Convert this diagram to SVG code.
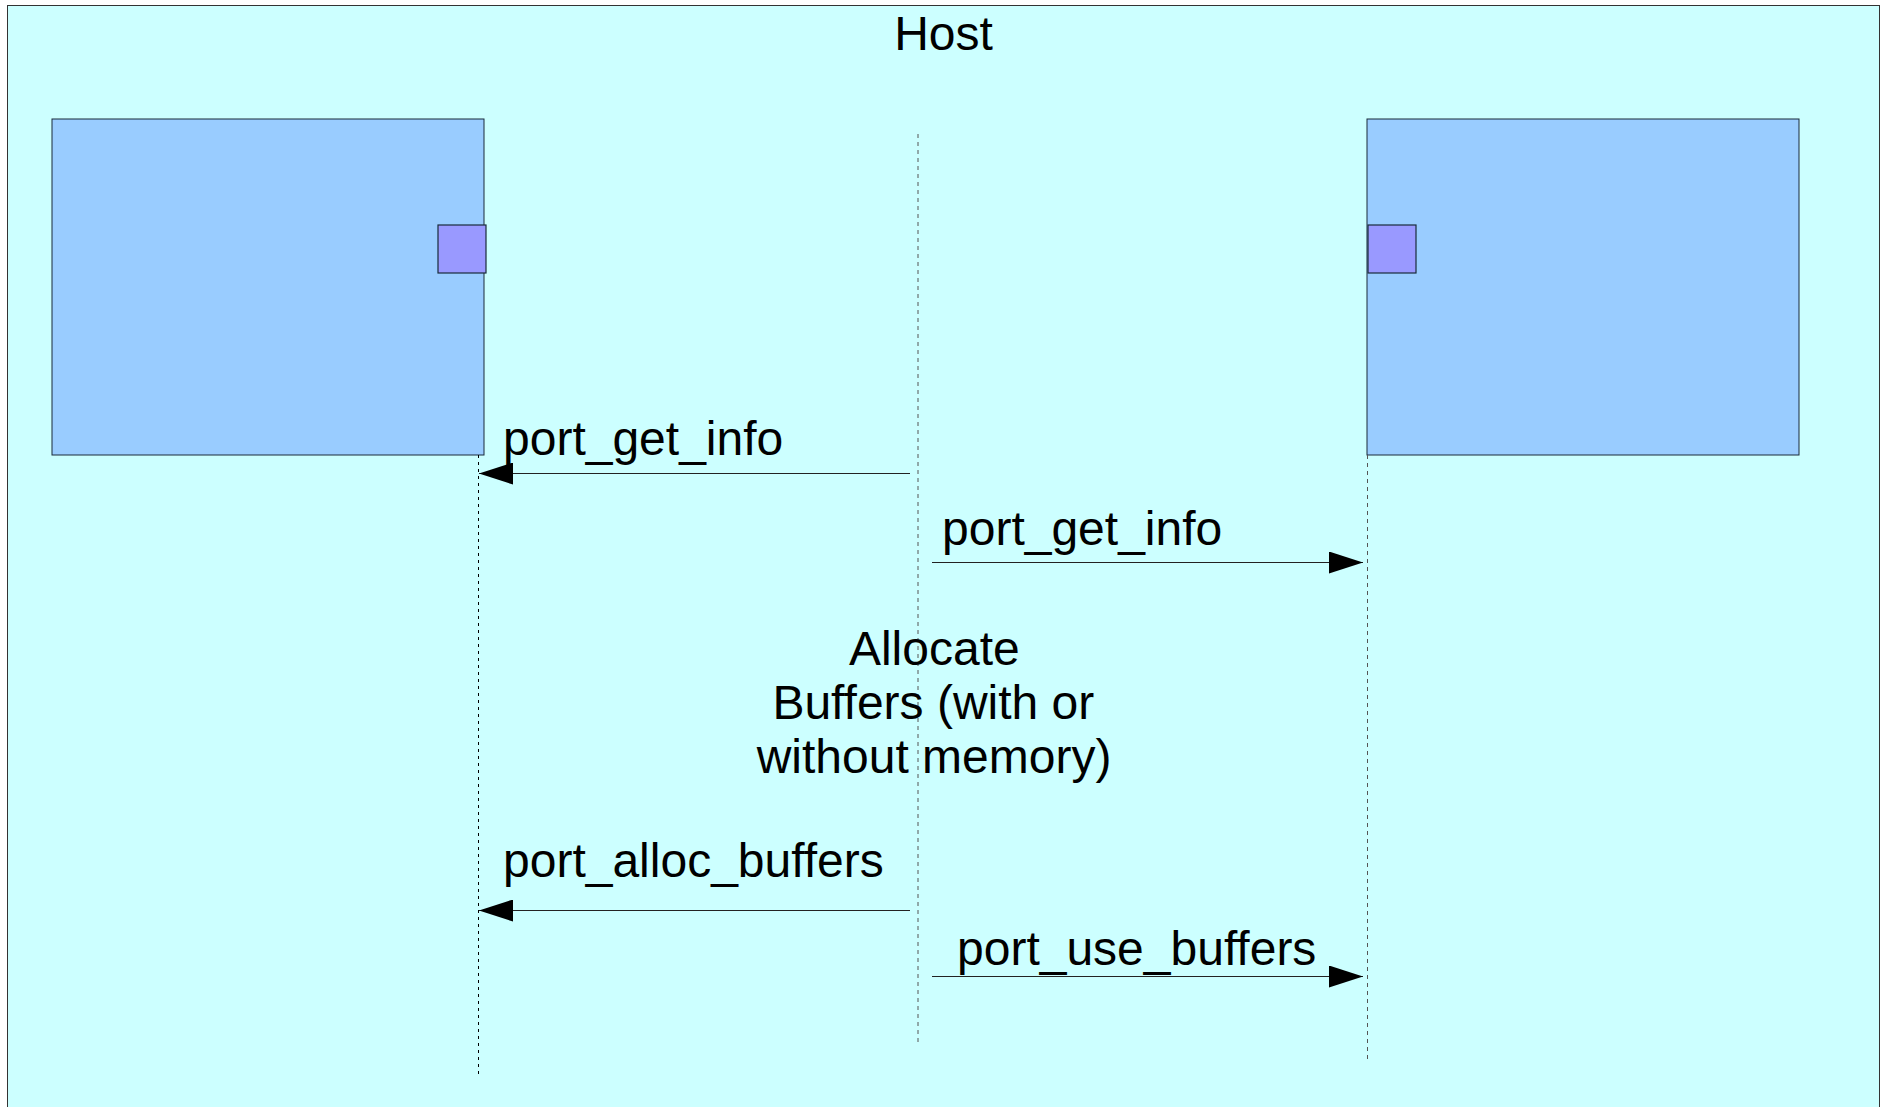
<svg xmlns="http://www.w3.org/2000/svg" width="1882" height="1107" viewBox="0 0 1882 1107">
  <style>
    .lbl { font-family: "Liberation Sans", Arial, sans-serif; font-size: 48px; fill: #000; }
    .comp { fill: #99ccff; stroke: #1a2a3a; stroke-width: 1; }
    .port { fill: #9999ff; stroke: #1a2a3a; stroke-width: 1.2; }
    .life { fill: none; stroke: #555; stroke-width: 1; stroke-dasharray: 4 4; }
    .life-dark { fill: none; stroke: #000; stroke-width: 1; stroke-dasharray: 3 4; }
    .msg { fill: none; stroke: #222; stroke-width: 1.2; }
  </style>
  <defs>
    <marker id="head" viewBox="0 0 34 22" markerWidth="34" markerHeight="22" refX="34" refY="11" orient="auto" markerUnits="userSpaceOnUse">
      <path d="M0,0 L34,11 L0,22 Z" fill="#000"/>
    </marker>
  </defs>

  <!-- host container -->
  <g id="host">
    <rect x="7.5" y="5.5" width="1872" height="1120" fill="#ccffff" stroke="#333" stroke-width="1"/>
    <text class="lbl" x="943.5" y="50" text-anchor="middle">Host</text>
  </g>

  <!-- left component with its port -->
  <g id="component-left">
    <rect class="comp" x="52" y="119" width="432" height="336"/>
    <rect class="port" x="438" y="225" width="48" height="48"/>
  </g>

  <!-- right component with its port -->
  <g id="component-right">
    <rect class="comp" x="1367" y="119" width="432" height="336"/>
    <rect class="port" x="1368" y="225" width="48" height="48"/>
  </g>

  <!-- lifelines and messages -->
  <g id="connectors">
    <line class="life-dark" x1="478.5" y1="455" x2="478.5" y2="1074"/>
    <line class="life" x1="918" y1="134" x2="918" y2="1044"/>
    <line class="life" x1="1367.5" y1="455" x2="1367.5" y2="1059"/>

    <line class="msg" x1="910" y1="473.5" x2="479" y2="473.5" marker-end="url(#head)"/>
    <line class="msg" x1="932" y1="562.5" x2="1363" y2="562.5" marker-end="url(#head)"/>
    <line class="msg" x1="910" y1="910.5" x2="479" y2="910.5" marker-end="url(#head)"/>
    <line class="msg" x1="932" y1="976.5" x2="1363" y2="976.5" marker-end="url(#head)"/>
  </g>

  <!-- message labels -->
  <g id="labels">
    <text class="lbl" x="503" y="455">port_get_info</text>
    <text class="lbl" x="942" y="545">port_get_info</text>
    <text class="lbl" x="503" y="877">port_alloc_buffers</text>
    <text class="lbl" x="957" y="965">port_use_buffers</text>
    <text class="lbl" text-anchor="middle">
      <tspan x="941" y="665">Allocate</tspan>
      <tspan x="940" y="719">Buffers (with or</tspan>
      <tspan x="934" y="773">without memory)</tspan>
    </text>
  </g>
</svg>
